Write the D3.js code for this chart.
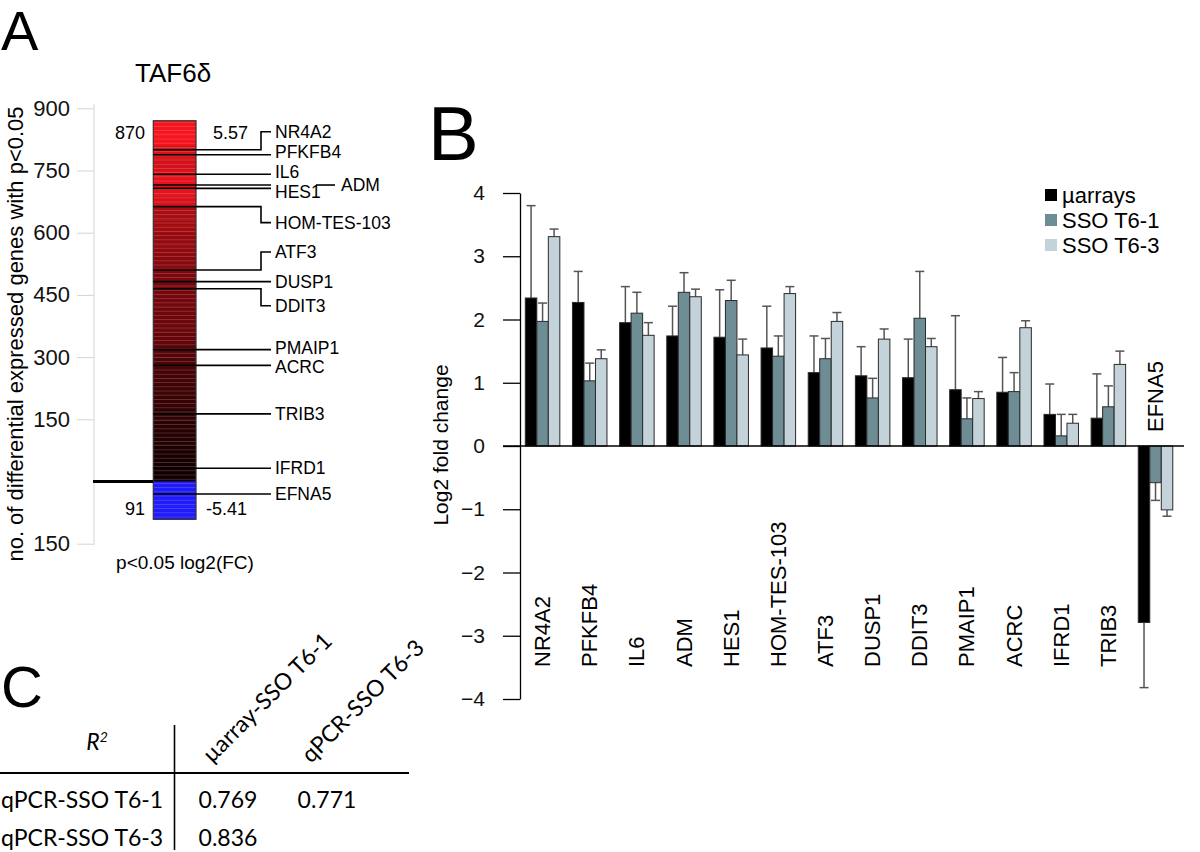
<!DOCTYPE html>
<html>
<head>
<meta charset="utf-8">
<script src="https://cdn.jsdelivr.net/npm/d3@7"></script>
<style>
  body { margin: 0; background: #fff; }
  svg { display: block; font-family: "Liberation Sans", Arial, sans-serif; }
</style>
</head>
<body>
<svg id="fig" width="1200" height="852"></svg>
<script>
// ---- panel A data ----
var countTicks = [-150, 150, 300, 450, 600, 750, 900]
var upCount = 870, downCount = 91
var maxFC = 5.57, minFC = -5.41
// estimated log2FC of each block of 30 genes, from the top of the list downwards
var upBlockFC = [2.6, 2.3, 2.0, 1.95, 2.1, 2.1, 2.0, 1.65, 1.6, 1.5, 1.45, 1.4, 1.3, 1.28, 1.25,
                 1.22, 1.2, 1.15, 1.05, 1.0, 0.95, 0.9, 0.86, 0.82, 0.76, 0.72, 0.68, 0.64, 0.6]
var downBlockFC = [-1.4, -1.6, -2.2]
var markGenes = ["NR4A2", "PFKFB4", "IL6", "ADM", "HES1", "HOM-TES-103", "ATF3", "DUSP1",
                 "DDIT3", "PMAIP1", "ACRC", "TRIB3", "IFRD1", "EFNA5"]
var markRank = [800, 788, 741, 715, 707, 663, 510, 482, 465, 318, 280, 163, 32, -30]
// label shifts (px) for the elbow connectors and crowded labels
var labelShift = [-18, -3, -2, 0, 3.5, 16, -18, 0, 17, -2, 1, 0, 0, 0]

// ---- panel B data ----
var genes = ["NR4A2", "PFKFB4", "IL6", "ADM", "HES1", "HOM-TES-103", "ATF3", "DUSP1",
             "DDIT3", "PMAIP1", "ACRC", "IFRD1", "TRIB3", "EFNA5"]
var series = ["µarrays", "SSO T6-1", "SSO T6-3"]
var microarray    = [2.34, 2.27, 1.95, 1.74, 1.72, 1.55, 1.16, 1.11, 1.08, 0.89, 0.85, 0.50, 0.44, -2.79]
var microarrayErr = [1.46, 0.49, 0.57, 0.47, 0.75, 0.66, 0.58, 0.46, 0.61, 1.17, 0.55, 0.48, 0.70, 1.03]
var sso1    = [1.97, 1.03, 2.10, 2.43, 2.30, 1.42, 1.38, 0.76, 2.02, 0.43, 0.86, 0.16, 0.62, -0.58]
var sso1Err = [0.29, 0.28, 0.33, 0.31, 0.32, 0.32, 0.32, 0.31, 0.74, 0.33, 0.30, 0.34, 0.33, 0.28]
var sso3    = [3.31, 1.38, 1.75, 2.36, 1.44, 2.41, 1.97, 1.69, 1.57, 0.75, 1.87, 0.36, 1.29, -1.01]
var sso3Err = [0.12, 0.14, 0.20, 0.12, 0.25, 0.11, 0.14, 0.16, 0.13, 0.11, 0.11, 0.14, 0.21, 0.10]
var fcTicks = [-4, -3, -2, -1, 0, 1, 2, 3, 4]
var seriesColor = ["#000000", "#6e8c94", "#c4d2da"]

// ---- panel C data ----
var rowNames = ["qPCR-SSO T6-1", "qPCR-SSO T6-3"]
var colNames = ["µarray-SSO T6-1", "qPCR-SSO T6-3"]
var rSquared = [[0.769, 0.771], [0.836, null]]

var svg = d3.select("#fig")
svg.append("rect").attr("width", 1200).attr("height", 852).attr("fill", "#fff")

// stripe texture for the heat bar
var defs = svg.append("defs")
var pat = defs.append("pattern").attr("id", "stripes").attr("patternUnits", "userSpaceOnUse")
  .attr("width", 50).attr("height", 4.2)
pat.append("rect").attr("y", 0).attr("width", 50).attr("height", 0.8).attr("fill", "rgba(255,170,170,0.28)")

// panel letters
svg.append("text").attr("x", 1).attr("y", 50).attr("font-size", 56).text("A")
svg.append("text").attr("x", 428).attr("y", 160).attr("font-size", 76).text("B")
svg.append("text").attr("x", 1).attr("y", 707).attr("font-size", 58).text("C")

// ================= panel A =================
var yA = d3.scaleLinear().domain([-150, 900]).range([543.7, 108.3])
var barL = 153.3, barR = 196

var axA = svg.append("g").attr("transform", "translate(94,0)")
  .call(d3.axisLeft(yA).tickValues(countTicks).tickFormat(function (d) { return Math.abs(d) })
    .tickSize(17).tickSizeOuter(0).tickPadding(7))
axA.select(".domain").attr("stroke", "#d4d4d4").attr("d", "M0," + (yA(900) - 4) + "V" + (yA(-150) + 1))
axA.selectAll(".tick line").attr("stroke", "#d4d4d4")
axA.selectAll(".tick text").attr("font-size", 22).attr("font-family", "Liberation Sans, Arial").attr("fill", "#111")

svg.append("text").attr("transform", "translate(23,334) rotate(-90)").attr("text-anchor", "middle")
  .attr("font-size", 22).text("no. of differential expressed genes with p<0.05")

svg.append("text").attr("x", 135).attr("y", 82).attr("font-size", 26).text("TAF6δ")

var redScale = d3.scaleLinear().domain([0.58, 1.2, 2.2]).range(["#0a0000", "#6a070c", "#f4141e"]).clamp(true)
var blueScale = d3.scaleLinear().domain([-0.58, -1.2]).range(["#0000a0", "#1c1cff"]).clamp(true)

upBlockFC.forEach(function (fc, i) {
  var top = upCount - 30 * i, bot = Math.max(0, upCount - 30 * (i + 1))
  svg.append("rect").attr("x", barL).attr("width", barR - barL)
    .attr("y", yA(top)).attr("height", yA(bot) - yA(top) + 0.5).attr("fill", redScale(fc))
})
downBlockFC.forEach(function (fc, i) {
  var top = -30 * i, bot = i == downBlockFC.length - 1 ? -downCount : -30 * (i + 1)
  svg.append("rect").attr("x", barL).attr("width", barR - barL)
    .attr("y", yA(top)).attr("height", yA(bot) - yA(top) + 0.5).attr("fill", blueScale(fc))
})
svg.append("rect").attr("x", barL).attr("width", barR - barL).attr("y", yA(upCount))
  .attr("height", yA(-downCount) - yA(upCount)).attr("fill", "url(#stripes)")
svg.append("rect").attr("x", barL).attr("width", barR - barL).attr("y", yA(upCount))
  .attr("height", yA(-downCount) - yA(upCount)).attr("fill", "none").attr("stroke", "#333").attr("stroke-width", 1.2)
// split between up and down regulated
svg.append("line").attr("x1", 93).attr("x2", barL).attr("y1", yA(0)).attr("y2", yA(0))
  .attr("stroke", "#000").attr("stroke-width", 3)

svg.append("text").attr("x", 145).attr("y", yA(upCount) + 12).attr("dy", "0.35em").attr("text-anchor", "end").attr("font-size", 18).text(upCount)
svg.append("text").attr("x", 213).attr("y", yA(upCount) + 12).attr("dy", "0.35em").attr("font-size", 18).text(maxFC)
svg.append("text").attr("x", 145).attr("y", yA(-downCount) - 11).attr("dy", "0.35em").attr("text-anchor", "end").attr("font-size", 18).text(downCount)
svg.append("text").attr("x", 206).attr("y", yA(-downCount) - 11).attr("dy", "0.35em").attr("font-size", 18).text(minFC)
svg.append("text").attr("x", 185).attr("y", 562).attr("dy", "0.35em").attr("text-anchor", "middle").attr("font-size", 19).text("p<0.05 log2(FC)")

markGenes.forEach(function (g, i) {
  var y = yA(markRank[i]), ly = y + labelShift[i]
  var path = Math.abs(labelShift[i]) < 5 ? "M" + barL + "," + y + "H271"
    : "M" + barL + "," + y + "H261V" + ly + "H271"
  svg.append("path").attr("d", path).attr("fill", "none").attr("stroke", "#000").attr("stroke-width", 1.6)
  if (g == "ADM") {
    svg.append("line").attr("x1", 316).attr("x2", 335).attr("y1", y).attr("y2", y).attr("stroke", "#000").attr("stroke-width", 1.6)
    svg.append("text").attr("x", 341).attr("y", y).attr("dy", "0.35em").attr("font-size", 17.5).text(g)
  } else {
    svg.append("text").attr("x", 275).attr("y", ly).attr("dy", "0.35em").attr("font-size", 17.5).text(g)
  }
})

// ================= panel B =================
var yB = d3.scaleLinear().domain([-4, 4]).range([699, 193])
var x0 = d3.scaleBand().domain(genes).range([520.6, 1177.5]).paddingInner(0.268).paddingOuter(0.1)
var x1 = d3.scaleBand().domain(series).range([0, x0.bandwidth()])

var axB = svg.append("g").attr("transform", "translate(520,0)")
  .call(d3.axisLeft(yB).tickValues(fcTicks).tickSize(17).tickSizeOuter(0).tickPadding(18))
axB.select(".domain").attr("stroke-width", 1.3)
axB.selectAll(".tick line").attr("stroke-width", 1.3)
axB.selectAll(".tick text").attr("font-size", 21).attr("font-family", "Liberation Sans, Arial").attr("fill", "#111")

svg.append("text").attr("transform", "translate(448,445) rotate(-90)").attr("text-anchor", "middle")
  .attr("font-size", 21).text("Log2 fold change")

var vals = [microarray, sso1, sso3], errs = [microarrayErr, sso1Err, sso3Err]
var bars = []
genes.forEach(function (g, i) {
  series.forEach(function (s, j) {
    bars.push({ gene: g, s: s, j: j, v: vals[j][i], e: errs[j][i] })
  })
})

var gB = svg.append("g")
// error bars first so the bar outline sits on top
bars.forEach(function (d) {
  var cx = x0(d.gene) + x1(d.s) + x1.bandwidth() / 2
  var end = d.v >= 0 ? d.v + d.e : d.v - d.e
  gB.append("line").attr("x1", cx).attr("x2", cx).attr("y1", yB(d.v)).attr("y2", yB(end))
    .attr("stroke", "#555").attr("stroke-width", 1.5)
  gB.append("line").attr("x1", cx - 4.5).attr("x2", cx + 4.5).attr("y1", yB(end)).attr("y2", yB(end))
    .attr("stroke", "#555").attr("stroke-width", 1.5)
})
gB.selectAll("rect.bar").data(bars).enter().append("rect").attr("class", "bar")
  .attr("x", function (d) { return x0(d.gene) + x1(d.s) })
  .attr("width", x1.bandwidth())
  .attr("y", function (d) { return yB(Math.max(0, d.v)) })
  .attr("height", function (d) { return Math.abs(yB(d.v) - yB(0)) })
  .attr("fill", function (d) { return seriesColor[d.j] })
  .attr("stroke", "#2a2a2a").attr("stroke-width", 1)

svg.append("line").attr("x1", 503).attr("x2", 1184).attr("y1", yB(0)).attr("y2", yB(0))
  .attr("stroke", "#000").attr("stroke-width", 1.3)

genes.forEach(function (g, i) {
  var cx = x0(g) + x0.bandwidth() / 2 + 7.5
  var base = microarray[i] >= 0 ? 667 : 432
  svg.append("text").attr("transform", "translate(" + cx + "," + base + ") rotate(-90)")
    .attr("font-size", 22).text(g)
})

var leg = svg.append("g").attr("transform", "translate(1045,183)")
series.forEach(function (s, j) {
  leg.append("rect").attr("x", 0).attr("y", j * 25 + 6).attr("width", 12).attr("height", 12).attr("fill", seriesColor[j])
  leg.append("text").attr("x", 17).attr("y", j * 25 + 12).attr("dy", "0.35em").attr("font-size", 22).text(s)
})

// ================= panel C =================
var gC = svg.append("g").attr("font-family", "Lato, 'Open Sans', sans-serif").attr("font-size", 23)
var r2 = gC.append("text").attr("x", 97).attr("y", 742).attr("dy", "0.35em").attr("text-anchor", "middle").attr("font-style", "italic")
r2.append("tspan").text("R")
r2.append("tspan").attr("font-size", 14).attr("dy", "-0.6em").text("2")
var colX = [228, 327]
colNames.forEach(function (c, k) {
  gC.append("text").attr("transform", "translate(" + (colX[k] - 16) + ",764) rotate(-45)").text(c)
})
rowNames.forEach(function (r, i) {
  var y = 800 + i * 38
  gC.append("text").attr("x", 1).attr("y", y).attr("dy", "0.35em").text(r)
  rSquared[i].forEach(function (v, k) {
    if (v != null) gC.append("text").attr("x", colX[k]).attr("y", y).attr("dy", "0.35em").attr("text-anchor", "middle").text(v.toFixed(3))
  })
})
gC.append("line").attr("x1", 0).attr("x2", 409).attr("y1", 773).attr("y2", 773).attr("stroke", "#000").attr("stroke-width", 2)
gC.append("line").attr("x1", 174.5).attr("x2", 174.5).attr("y1", 725).attr("y2", 850).attr("stroke", "#000").attr("stroke-width", 1.6)
</script>
</body>
</html>
